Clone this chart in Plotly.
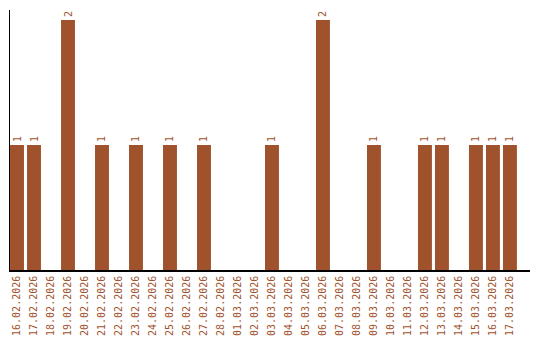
import plotly.graph_objects as go

dates = ["16.02.2026", "17.02.2026", "18.02.2026", "19.02.2026", "20.02.2026",
         "21.02.2026", "22.02.2026", "23.02.2026", "24.02.2026", "25.02.2026",
         "26.02.2026", "27.02.2026", "28.02.2026", "01.03.2026", "02.03.2026",
         "03.03.2026", "04.03.2026", "05.03.2026", "06.03.2026", "07.03.2026",
         "08.03.2026", "09.03.2026", "10.03.2026", "11.03.2026", "12.03.2026",
         "13.03.2026", "14.03.2026", "15.03.2026", "16.03.2026", "17.03.2026"]
counts = [1, 1, 0, 2, 0, 1, 0, 1, 0, 1, 0, 1, 0, 0, 0,
          1, 0, 0, 2, 0, 0, 1, 0, 0, 1, 1, 0, 1, 1, 1]

color = "#A0522D"
labels = [str(c) if c > 0 else "" for c in counts]

fig = go.Figure(go.Bar(
    x=dates, y=counts, marker=dict(color=color, line=dict(width=0)),
    width=0.82, text=labels, textposition="outside", textangle=-90,
    textfont=dict(color=color, size=10, family="DejaVu Sans Mono"),
    cliponaxis=False, hoverinfo="skip",
))
fig.update_layout(
    width=540, height=340, margin=dict(l=10, r=10, t=10, b=70, autoexpand=False),
    paper_bgcolor="white", plot_bgcolor="white", showlegend=False,
    xaxis=dict(type="category", range=[-0.412, 30.18], showgrid=False,
               showline=True, linecolor="black", linewidth=1.5, ticks="",
               tickangle=-90, automargin=False,
               tickfont=dict(color=color, size=10, family="DejaVu Sans Mono"),
               zeroline=False),
    yaxis=dict(range=[0, 2.08], showgrid=False, showline=True, linecolor="black",
               linewidth=1, showticklabels=False, ticks="", zeroline=False,
               automargin=False),
    uniformtext=dict(mode=False),
)
fig.write_html("out.html")
